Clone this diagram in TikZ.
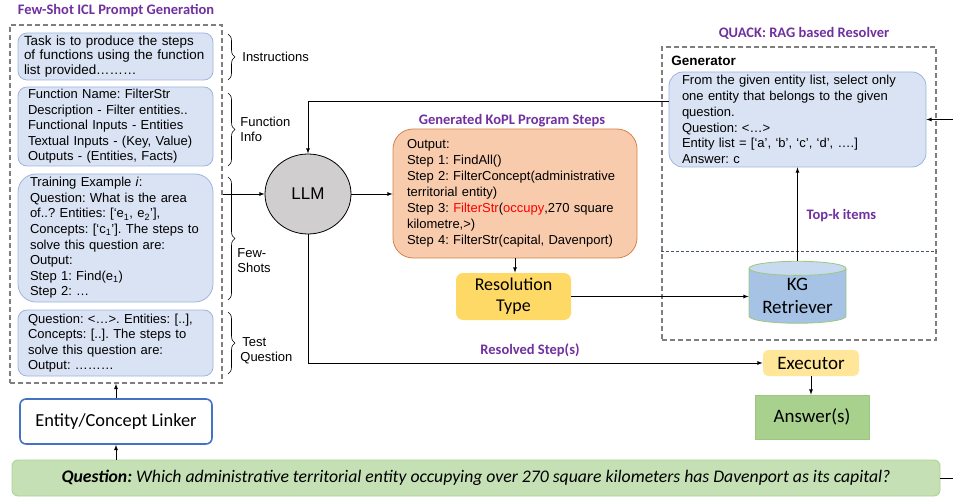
\documentclass[tikz,border=0pt]{standalone}
\usepackage{fontspec}
\setmainfont{Liberation Sans}
\newfontfamily\calfont{Carlito}
\usepackage{tikz}
\usetikzlibrary{calc}
\usetikzlibrary{shapes}
\usetikzlibrary{decorations.pathreplacing}
\frenchspacing
\definecolor{titlepurple}{HTML}{7030A0}
\definecolor{promptfill}{HTML}{DAE3F3}
\definecolor{promptline}{HTML}{9DB5E0}
\definecolor{koplfill}{HTML}{F8CBAD}
\definecolor{koplline}{HTML}{D3844B}
\definecolor{resfill}{HTML}{FFD966}
\definecolor{execfill}{HTML}{FFE699}
\definecolor{ansfill}{HTML}{A9D18E}
\definecolor{ansline}{HTML}{9CC77E}
\definecolor{qfill}{HTML}{C5E0B4}
\definecolor{qline}{HTML}{A9D18E}
\definecolor{kgbody}{HTML}{A6C3E5}
\definecolor{kgtop}{HTML}{C7DAF0}
\definecolor{linkline}{HTML}{4472C4}
\definecolor{dashgray}{HTML}{7F7F7F}
\definecolor{sepline}{HTML}{44546A}
\definecolor{llmfill}{HTML}{D0CECE}

\tikzset{
  prompt/.style={draw=promptline, fill=promptfill, rounded corners=9pt,
    inner sep=0pt, align=left, minimum width=195, text width=177},
  heading/.style={text=titlepurple, font=\calfont\bfseries\fontsize{14.5}{16}\selectfont},
  dashbox/.style={draw=dashgray, line width=1.6pt, dash pattern=on 5pt off 3pt,
    inner sep=0pt},
  bracelabel/.style={anchor=west, align=left, inner sep=0pt,
    font=\fontsize{13}{15}\selectfont},
  calbox/.style={font=\calfont\fontsize{17.5}{21}\selectfont, align=center, inner sep=0pt},
}

\begin{document}
\begin{tikzpicture}[x=1pt, y=-1pt, >=latex, line width=0.8pt,
  brc/.style={decorate, decoration={brace, amplitude=7pt}, line width=0.6pt}]
  \useasboundingbox (0,0) rectangle (953,497);

  % prompt generation
  \node[heading] (icltitle) at (116,11) {Few-Shot ICL Prompt Generation};
  \node[dashbox, minimum width=212, minimum height=358] (icl) at (116,204) {};
  \node[prompt, minimum height=47, text width=183, font=\fontsize{13.4}{14.5}\selectfont] (instr) at (115.5,56.5)
    {Task is to produce the steps\\of functions using the function\\list provided………};
  \node[prompt, minimum height=79, text width=175, font=\fontsize{13}{15.5}\selectfont] (finfo) at (115.5,126.5)
    {Function Name: FilterStr\\Description - Filter entities..\\Functional Inputs - Entities\\Textual Inputs - (Key, Value)\\Outputs - (Entities, Facts)};
  \node[prompt, minimum height=128, text width=171, font=\fontsize{13}{15.6}\selectfont, rounded corners=18pt] (train) at (115.5,238)
    {Training Example \textit{i}:\\Question: What is the area\\of..? Entities: [‘e\textsubscript{1}, e\textsubscript{2}’],\\Concepts: [‘c\textsubscript{1}’]. The steps to\\solve this question are:\\Output:\\Step 1: Find(e\textsubscript{1})\\Step 2: …};
  \node[prompt, minimum height=66, text width=175, font=\fontsize{13}{15.5}\selectfont] (test) at (115.5,343)
    {Question: <…>. Entities: [..],\\Concepts: [..]. The steps to\\solve this question are:\\Output: ………};

  \draw[brc] (228,34) -- (228,80);
  \node[bracelabel] (instrlbl) at (242,57) {Instructions};
  \draw[brc] (228,93) -- (228,166);
  \node[bracelabel] (finfolbl) at (240,129.5) {Function\\Info};
  \draw[brc] (228,177) -- (228,300);
  \node[bracelabel] (fewlbl) at (237,260.5) {Few-\\Shots};
  \draw[brc] (228,312) -- (228,374);
  \node[bracelabel] (testlbl) at (240,350.5) {\hspace{2pt}Test\\Question};

  \node[draw=linkline, line width=1.6pt, rounded corners=6pt, minimum width=192,
    minimum height=45, calbox, font=\calfont\fontsize{18.4}{21}\selectfont] (link) at (116,421.5) {Entity/Concept Linker};

  % llm and program steps
  \node[ellipse, draw, fill=llmfill, minimum width=86, minimum height=80, inner sep=0pt,
    font=\fontsize{17}{20}\selectfont] (llm) at (308,194) {LLM};
  \node[heading] (kopltitle) at (512,121) {Generated KoPL Program Steps};
  \node[draw=koplline, fill=koplfill, rounded corners=20pt, minimum width=244, minimum height=129,
    inner sep=0pt, text width=216, align=left, font=\fontsize{13}{16}\selectfont] (kopl) at (515,193.5)
    {Output:\\Step 1: FindAll()\\Step 2: FilterConcept(administrative\\territorial entity)\\Step 3: \textcolor{red}{FilterStr}(\textcolor{red}{occupy},270 square\\kilometre,>)\\Step 4: FilterStr(capital, Davenport)};
  \node[fill=resfill, rounded corners=7pt, minimum width=115, minimum height=47, calbox,
    font=\calfont\fontsize{18}{21}\selectfont] (res) at (513.5,296.5) {Resolution\\Type};
  \node[heading] (resolved) at (530,350) {Resolved Step(s)};

  % resolver
  \node[heading] (quacktitle) at (804,33) {QUACK: RAG based Resolver};
  \node[dashbox, minimum width=274, minimum height=293] (quack) at (799,193.5) {};
  \node[anchor=west, inner sep=0pt, font=\bfseries\fontsize{13.5}{15}\selectfont] (gentitle) at (671,61) {Generator};
  \node[prompt, minimum width=257, minimum height=95, text width=231, rounded corners=14pt,
    font=\fontsize{13}{15.8}\selectfont] (gen) at (797.5,119.5)
    {From the given entity list, select only\\one entity that belongs to the given\\question.\\Question: <…>\\Entity list = [‘a’, ‘b’, ‘c’, ‘d’, ….]\\Answer: c};
  \draw[sepline, line width=0.6pt, dash pattern=on 3pt off 2pt] (quack.west |- 0,251) -- (quack.east |- 0,251);
  \node[heading, anchor=west] (topk) at (803,216) {Top-k items};
  \node[cylinder, shape border rotate=90, draw=ansline, cylinder uses custom fill,
    cylinder body fill=kgbody, cylinder end fill=kgtop, aspect=0.2, minimum width=97,
    minimum height=62, calbox, font=\calfont\fontsize{19}{23}\selectfont] (kg) at (797.5,296) {KG\\Retriever};

  \node[fill=execfill, rounded corners=5pt, minimum width=96, minimum height=26, calbox,
    font=\calfont\fontsize{19}{21}\selectfont] (exec) at (811,363) {Executor};
  \node[draw=ansline, fill=ansfill, minimum width=114, minimum height=44, calbox,
    font=\calfont\fontsize{19}{21}\selectfont] (ans) at (812,417) {Answer(s)};

  \node[draw=qline, fill=qfill, rounded corners=6pt, minimum width=928, minimum height=36, calbox,
    font=\calfont\fontsize{17.7}{21}\selectfont] (q) at (476,478)
    {\textbf{\textit{Question:}} \textit{Which administrative territorial entity occupying over 270 square kilometers has Davenport as its capital?}};

  % connectors
  \draw[->] (q.north -| link) -- (link.south);
  \draw[->] (link.north) -- (icl.south);
  \draw[->] (icl.east |- llm) -- (llm);
  \draw[->] ([yshift=18.5pt]gen.west) -| (llm.north);
  \draw[->] (llm.east) -- (kopl.west |- llm.east);
  \draw[->] (llm.south) |- (exec.west);
  \draw[->] (kopl.south) -- (kopl.south |- res.north);
  \draw[->] (res.east) -- (kg.west |- res.east);
  \draw[->] (kg.north) -- (kg.north |- gen.south);
  \draw[->] (exec.south) -- (exec.south |- ans.north);
  \draw[->] (q.east) -- ++(30,0) |- (gen.east);
\end{tikzpicture}
\end{document}
